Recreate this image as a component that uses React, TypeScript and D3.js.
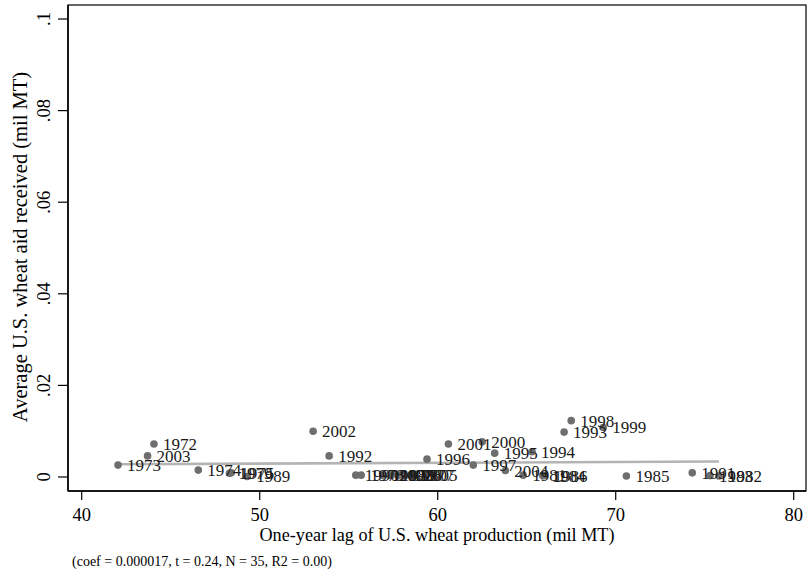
import React from "react";
import * as d3 from "d3";

const years = [1972,1973,1974,1975,1976,1977,1978,1979,1980,1981,1982,1983,1984,1985,1986,1987,1988,1989,1990,1991,1992,1993,1994,1995,1996,1997,1998,1999,2000,2001,2002,2003,2004,2005,2006];
const lagProduction = [44.06,42.04,46.55,48.4,57.8,58.5,55.7,48.3,58.1,64.8,75.8,75.3,65.9,70.6,66.0,56.9,57.4,49.3,55.4,74.3,53.9,67.1,65.3,63.2,59.4,62.0,67.5,69.3,62.5,60.6,53.0,43.7,63.8,58.7,57.3];
const aidReceived = [0.0072,0.0026,0.0015,0.0009,0.0004,0.0004,0.0004,0.0008,0.0004,0.0004,0.0002,0.0003,0.0003,0.0002,0.0003,0.0004,0.0004,0.0001,0.0004,0.0009,0.0046,0.0098,0.0055,0.0052,0.0039,0.0026,0.0123,0.0108,0.0077,0.0072,0.0100,0.0046,0.0014,0.0004,0.0004];
const xTicks = [40,50,60,70,80];
const yTicks = [0,0.02,0.04,0.06,0.08,0.1];
const yTickLabels = ["0",".02",".04",".06",".08",".1"];
const fitIntercept = 0.00208;
const fitSlope = 0.000017;
const xTitle = "One-year lag of U.S. wheat production (mil MT)";
const yTitle = "Average U.S. wheat aid received (mil MT)";
const note = "(coef = 0.000017, t = 0.24, N = 35, R2 = 0.00)";

const FONT = "'Liberation Serif', 'Times New Roman', serif";

export default function App() {
  const left = 68, right = 806, top = 5, bottom = 491;
  const x = d3.scaleLinear().domain([39.23, 80.69]).range([left, right]);
  const y = d3.scaleLinear().domain([-0.00306, 0.10306]).range([bottom, top]);
  const xMin = d3.min(lagProduction) as number;
  const xMax = d3.max(lagProduction) as number;
  const line = d3.line<number>().x(v => x(v)).y(v => y(fitIntercept + fitSlope * v));
  return (
    <svg width={808} height={578} style={{ position: "absolute", left: 0, top: 0, background: "#fff" }} fontFamily={FONT}>
      <rect x={0} y={0} width={808} height={578} fill="#fff" />
      <rect x={left} y={top} width={right - left} height={bottom - top} fill="none" stroke="#000" strokeWidth={1.2} />
      <path d={line([xMin, xMax]) || ""} stroke="#b4b4b4" strokeWidth={2.6} fill="none" />
      {lagProduction.map((v, i) => (
        <circle key={"p" + i} cx={x(v)} cy={y(aidReceived[i])} r={3.8} fill="#6e6e6e" />
      ))}
      {lagProduction.map((v, i) => (
        <text key={"l" + i} x={x(v) + 9} y={y(aidReceived[i])} dy="0.35em" fontSize={17} fill="#1a1a1a">{years[i]}</text>
      ))}
      <line x1={left} x2={left} y1={top} y2={bottom} stroke="#000" strokeWidth={1.5} />
      {yTicks.map((t, i) => (
        <g key={"yt" + i}>
          <line x1={left - 10} x2={left} y1={y(t)} y2={y(t)} stroke="#000" strokeWidth={1.2} />
          <text transform={`translate(50,${y(t)}) rotate(-90)`} textAnchor="middle" fontSize={18.5} fill="#000">{yTickLabels[i]}</text>
        </g>
      ))}
      <text transform={`translate(27,247) rotate(-90)`} textAnchor="middle" fontSize={20.5} fill="#000">{yTitle}</text>
      <line x1={left} x2={right} y1={bottom} y2={bottom} stroke="#000" strokeWidth={1.5} />
      {xTicks.map((t, i) => (
        <g key={"xt" + i}>
          <line x1={x(t)} x2={x(t)} y1={bottom} y2={bottom + 9} stroke="#000" strokeWidth={1.2} />
          <text x={x(t)} y={bottom + 30} textAnchor="middle" fontSize={18.5} fill="#000">{t}</text>
        </g>
      ))}
      <text x={(left + right) / 2} y={bottom + 50} textAnchor="middle" fontSize={18.2} fill="#000">{xTitle}</text>
      <text x={72} y={bottom + 75} fontSize={14} fill="#000">{note}</text>
    </svg>
  );
}
